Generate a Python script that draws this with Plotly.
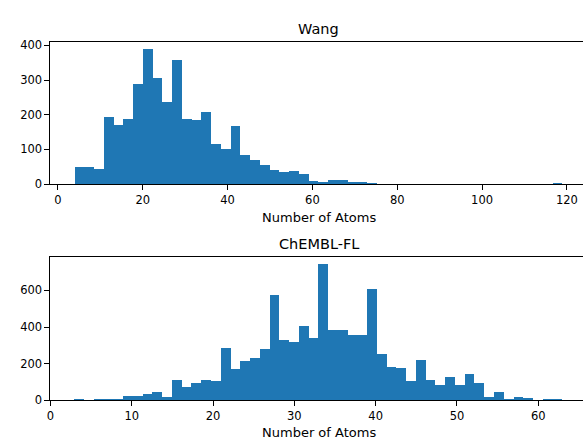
import numpy as np
import plotly.graph_objects as go

# Histogram counts (50 equal-width bins per dataset)
wang_start = 4.0
wang_width = 2.3
wang_counts = [50, 50, 46, 195, 172, 188, 290, 391, 308, 237,
               358, 188, 186, 209, 118, 103, 169, 86, 72, 56,
               41, 36, 38, 30, 10, 6, 12, 12, 7, 6,
               3, 0, 0, 0, 0, 0, 0, 0, 0, 0,
               0, 0, 0, 0, 0, 0, 0, 0, 0, 3]

chembl_start = 3.0
chembl_width = 1.2
chembl_counts = [5, 0, 5, 5, 5, 23, 23, 34, 43, 18,
                 109, 69, 93, 109, 105, 285, 171, 215, 231, 281,
                 575, 328, 317, 402, 337, 746, 383, 383, 353, 356,
                 609, 251, 182, 173, 103, 221, 109, 80, 125, 80,
                 144, 93, 18, 43, 7, 18, 12, 0, 7, 7]

wang_xticks = [0, 20, 40, 60, 80, 100, 120]
wang_yticks = [0, 100, 200, 300, 400]
chembl_xticks = [0, 10, 20, 30, 40, 50, 60]
chembl_yticks = [0, 200, 400, 600]

titles = ["Wang", "ChEMBL-FL"]
xlabel = "Number of Atoms"

W, H = 583, 447
BLUE = "#1f77b4"
FONT = "DejaVu Sans"


def centers(start, width, n):
    return start + width * (np.arange(n) + 0.5)


fig = go.Figure()
fig.add_trace(go.Bar(
    x=centers(wang_start, wang_width, len(wang_counts)), y=wang_counts,
    width=wang_width, marker=dict(color=BLUE, line=dict(width=0)),
    xaxis="x", yaxis="y", showlegend=False, hoverinfo="x+y"))
fig.add_trace(go.Bar(
    x=centers(chembl_start, chembl_width, len(chembl_counts)), y=chembl_counts,
    width=chembl_width, marker=dict(color=BLUE, line=dict(width=0)),
    xaxis="x2", yaxis="y2", showlegend=False, hoverinfo="x+y"))

def px_x(p):
    return p / W

def px_y(p):
    return 1 - p / H

tick_font = dict(family=FONT, size=11.5, color="black")
axis_common = dict(showgrid=False, zeroline=False, showline=True,
                   linecolor="black", linewidth=1, ticks="outside",
                   ticklen=5, tickwidth=1, tickcolor="black",
                   tickfont=tick_font)

left = px_x(46.7)
fig.update_layout(
    width=W, height=H,
    margin=dict(l=0, r=0, t=0, b=0),
    paper_bgcolor="white", plot_bgcolor="white",
    bargap=0,
    font=dict(family=FONT, color="black"),
    xaxis=dict(domain=[left, 1], anchor="y", range=[-1.78, 123.8],
               tickvals=wang_xticks, mirror=True, **axis_common),
    yaxis=dict(domain=[px_y(185.3), px_y(39.5)], anchor="x", range=[0, 410.7],
               tickvals=wang_yticks, **axis_common),
    xaxis2=dict(domain=[left, 1], anchor="y2", range=[0, 65.5],
                tickvals=chembl_xticks, mirror=True, **axis_common),
    yaxis2=dict(domain=[px_y(406.3), px_y(260)], anchor="x2", range=[0, 781.5],
                tickvals=chembl_yticks, **axis_common),
)

# Subplot titles and x-axis labels
cx = px_x(317)
for text, y, size in [(titles[0], 26.5, 14.5), (titles[1], 247, 14.5),
                      (xlabel, 219.5, 13), (xlabel, 439.5, 13)]:
    fig.add_annotation(text=text, x=cx, y=px_y(y), xref="paper", yref="paper",
                       xanchor="center", yanchor="middle", showarrow=False,
                       font=dict(family=FONT, size=size, color="black"))

fig.write_html("out.html")
